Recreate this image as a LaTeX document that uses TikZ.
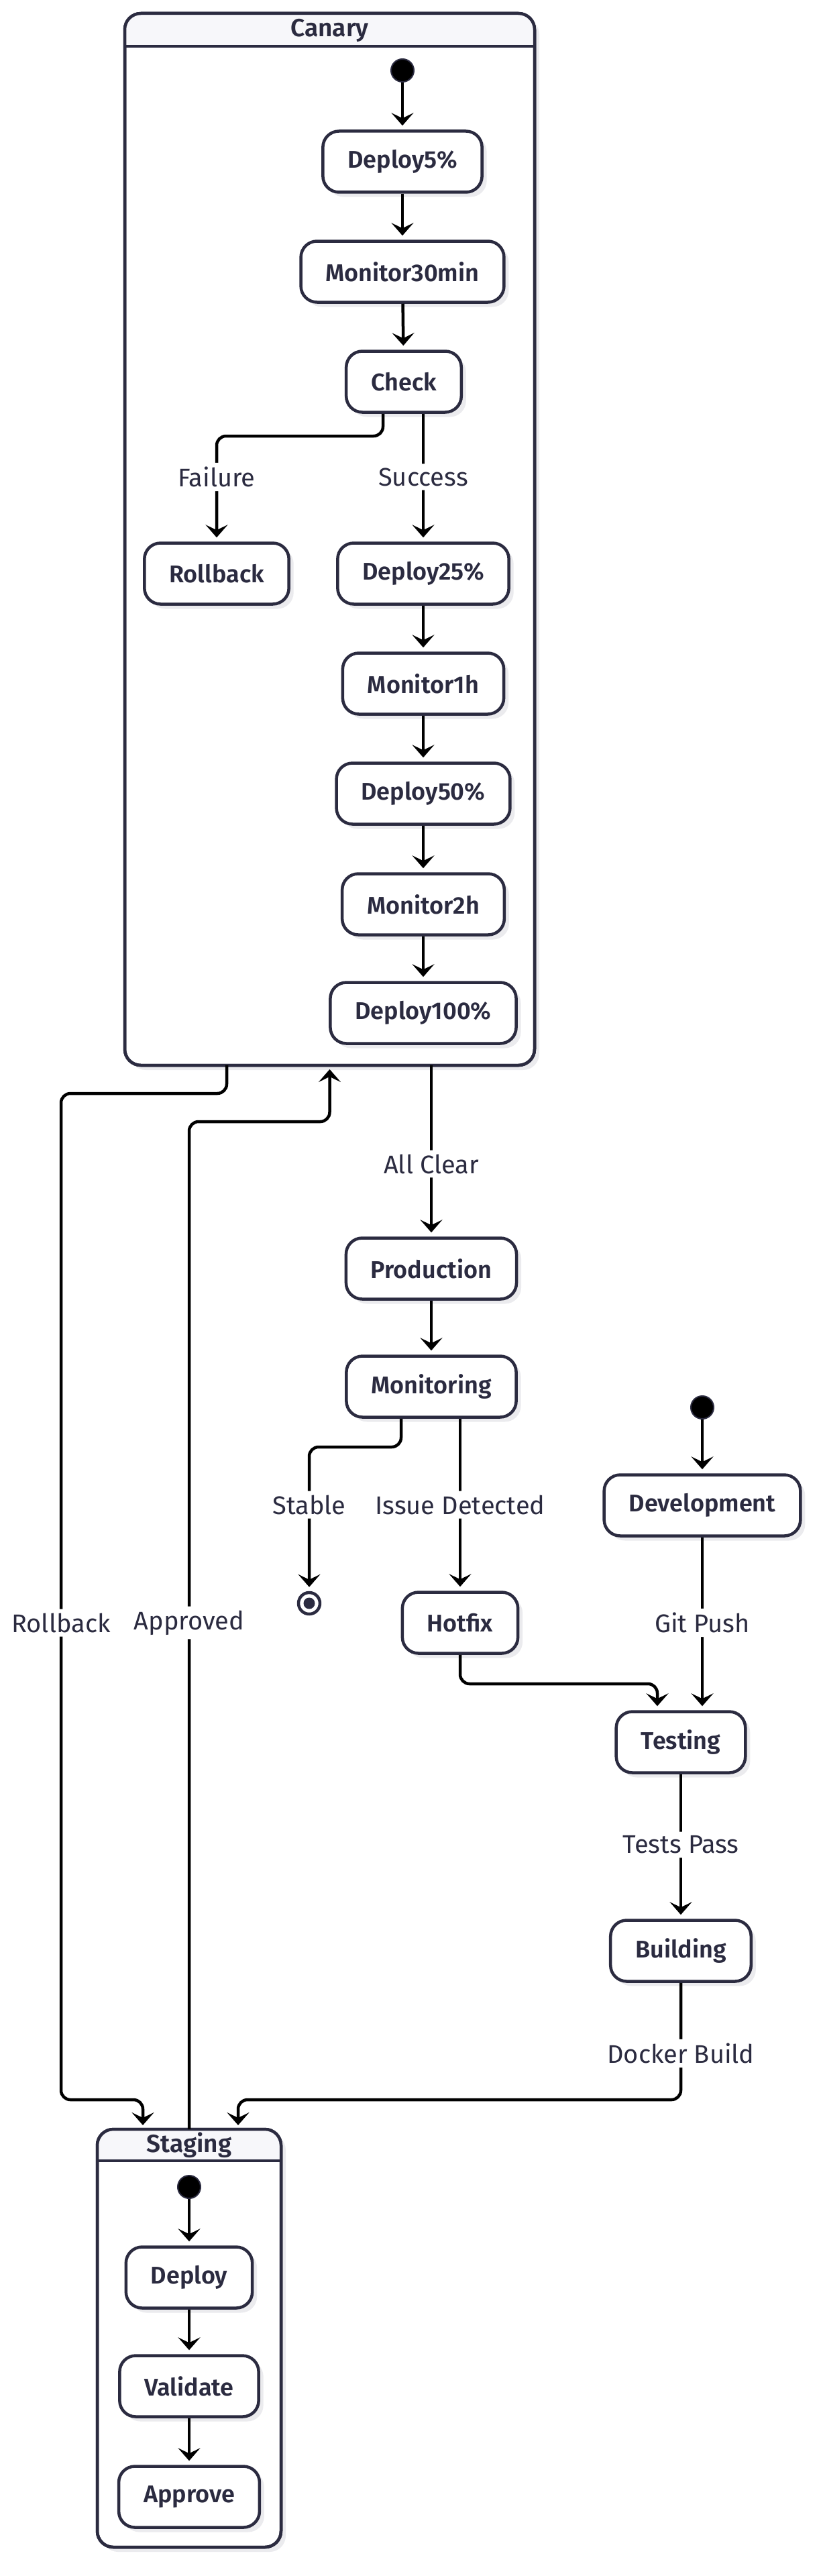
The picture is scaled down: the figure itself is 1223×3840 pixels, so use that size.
\documentclass[tikz,border=0pt]{standalone}
\usepackage{fontspec}
\setmainfont{Fira Sans}[BoldFont={Fira Sans SemiBold}]
\usetikzlibrary{arrows.meta,shadows}

\definecolor{ink}{HTML}{2B2B40}
\definecolor{headfill}{HTML}{F7F7FA}
\definecolor{shade}{HTML}{EBEBEE}

\tikzset{
  act/.style={draw=ink, line width=4.5pt, fill=white, rounded corners=24pt,
    minimum height=91pt, inner xsep=37pt, text=ink,
    font=\fontsize{36}{42}\selectfont\bfseries,
    drop shadow={shadow xshift=7pt, shadow yshift=-7pt, fill=shade, opacity=1}},
  cluster/.style={draw=ink, line width=4.5pt, fill=white, rounded corners=24pt,
    outer sep=0pt,
    drop shadow={shadow xshift=7pt, shadow yshift=-7pt, fill=shade, opacity=1}},
  clustertitle/.style={text=ink, font=\fontsize{37}{42}\selectfont\bfseries},
  startdot/.style={circle, fill=black, draw=ink, line width=2pt,
    minimum size=34pt, inner sep=0pt},
  enddot/.style={circle, fill=white, draw=ink, line width=4.5pt,
    minimum size=32pt, inner sep=0pt,
    path picture={\fill[ink] (path picture bounding box.center) circle (8.5pt);}},
  flow/.style={draw=black, line width=4.5pt, rounded corners=14pt,
    -{Stealth[length=19pt, width=33pt, inset=8pt]}, shorten >=6pt},
  guard/.style={fill=white, text=ink, font=\fontsize{38}{44}\selectfont,
    inner xsep=4pt, inner ysep=6pt}
}

\begin{document}
\begin{tikzpicture}[x=1pt, y=-1pt, line join=round]
\useasboundingbox (0,0) rectangle (1223,3840);

% Canary composite state
\node[cluster, minimum width=611pt, minimum height=1568pt] (canary) at (491.5,804) {};
\begin{scope}
  \clip[rounded corners=24pt] (canary.north west) rectangle (canary.south east);
  \fill[headfill] (canary.north west) rectangle ([yshift=-49pt]canary.north east);
\end{scope}
\draw[ink, line width=4.5pt] ([yshift=-49pt]canary.north west) -- ([yshift=-49pt]canary.north east);
\draw[ink, line width=4.5pt, rounded corners=24pt] (canary.north west) rectangle (canary.south east);
\node[clustertitle] (canary-title) at ([yshift=-25pt]canary.north) {Canary};

\node[startdot] (canary-start) at (600,105) {};
\node[act] (deploy5) at (600,241) {Deploy5\%};
\node[act] (monitor30) at (600,405) {Monitor30min};
\node[act] (check) at (602,569) {Check};
\node[act] (rollback) at (323,855) {Rollback};
\node[act] (deploy25) at (631,855) {Deploy25\%};
\node[act] (monitor1h) at (631,1019) {Monitor1h};
\node[act] (deploy50) at (631,1183) {Deploy50\%};
\node[act] (monitor2h) at (631,1348) {Monitor2h};
\node[act] (deploy100) at (631,1510) {Deploy100\%};

% Staging composite state
\node[cluster, minimum width=274pt, minimum height=623pt] (staging) at (282,3485.5) {};
\begin{scope}
  \clip[rounded corners=24pt] (staging.north west) rectangle (staging.south east);
  \fill[headfill] (staging.north west) rectangle ([yshift=-47pt]staging.north east);
\end{scope}
\draw[ink, line width=4.5pt] ([yshift=-47pt]staging.north west) -- ([yshift=-47pt]staging.north east);
\draw[ink, line width=4.5pt, rounded corners=24pt] (staging.north west) rectangle (staging.south east);
\node[clustertitle] (staging-title) at ([yshift=-24pt]staging.north) {Staging};

\node[startdot] (staging-start) at (282,3260) {};
\node[act] (deploy) at (282,3395) {Deploy};
\node[act] (validate) at (282,3557) {Validate};
\node[act] (approve) at (282,3722) {Approve};

% top level states
\node[act] (production) at (643,1891) {Production};
\node[act] (monitoring) at (643,2067) {Monitoring};
\node[enddot] (done) at (461,2390) {};
\node[act] (hotfix) at (686,2419) {Hotfix};
\node[startdot] (dev-start) at (1047,2098) {};
\node[act] (development) at (1047,2244) {Development};
\node[act] (testing) at (1015,2597) {Testing};
\node[act] (building) at (1015,2908) {Building};

% transitions inside Canary
\draw[flow] (canary-start) -- (deploy5);
\draw[flow] (deploy5) -- (monitor30);
\draw[flow] (monitor30) -- (check);
\draw[flow] ([xshift=-31pt]check.south) |- (323,650) -- (323,711) node[guard] {Failure} -- (rollback);
\draw[flow] ([xshift=29pt]check.south) -- (631,711) node[guard] {Success} -- (deploy25);
\draw[flow] (deploy25) -- (monitor1h);
\draw[flow] (monitor1h) -- (deploy50);
\draw[flow] (deploy50) -- (monitor2h);
\draw[flow] (monitor2h) -- (deploy100);

% transitions inside Staging
\draw[flow] (staging-start) -- (deploy);
\draw[flow] (deploy) -- (validate);
\draw[flow] (validate) -- (approve);

% top level transitions
\draw[flow] (dev-start) -- (development);
\draw[flow] (development) -- (1047,2419) node[guard] {Git Push} -- ([xshift=32pt]testing.north);
\draw[flow] (testing) -- (1015,2750) node[guard] {Tests Pass} -- (building);
\draw[flow] (building) -- (1015,3061) node[guard] {Docker Build} |- (355,3130) -- ([xshift=73pt]staging.north);
\draw[flow] (staging.north) -- (282,2419) node[guard] {Approved} -- (282,1672) -| (canary.south);
\draw[flow] ([xshift=-153.5pt]canary.south) |- (91,1630) -- (91,2419) node[guard] {Rollback} -- (91,3130) -| ([xshift=-69pt]staging.north);
\draw[flow] ([xshift=151.5pt]canary.south) -- (643,1735) node[guard] {All Clear} -- (production);
\draw[flow] (production) -- (monitoring);
\draw[flow] ([xshift=-45pt]monitoring.south) |- (461,2157) -- (461,2243) node[guard] {Stable} -- (done);
\draw[flow] ([xshift=43pt]monitoring.south) -- (686,2243) node[guard] {Issue Detected} -- (hotfix);
\draw[flow] (hotfix) |- (980,2510) -- ([xshift=-35pt]testing.north);
\end{tikzpicture}
\end{document}
